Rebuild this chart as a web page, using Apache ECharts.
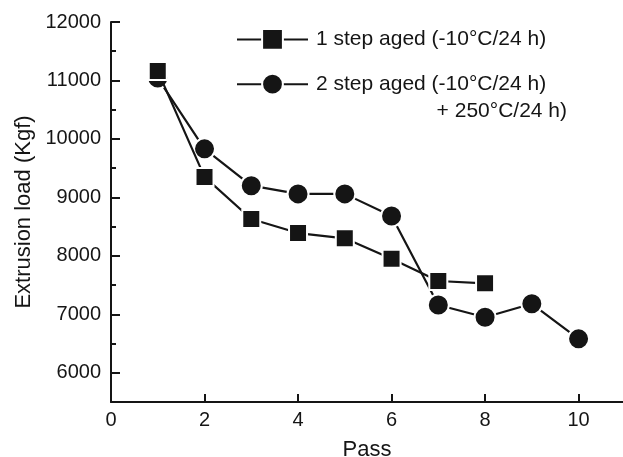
<!DOCTYPE html>
<html>
<head>
<meta charset="utf-8">
<script src="https://cdn.jsdelivr.net/npm/echarts@6/dist/echarts.min.js"></script>
<style>
html,body{margin:0;padding:0;background:#fff;}
#chart{width:623px;height:457px;}
</style>
</head>
<body>
<div id="chart"></div>
<script>
const passes1 = [1, 2, 3, 4, 5, 6, 7, 8];
const load1 = [11160, 9350, 8630, 8390, 8300, 7950, 7570, 7530];
const passes2 = [1, 2, 3, 4, 5, 6, 7, 8, 9, 10];
const load2 = [11040, 9830, 9200, 9060, 9060, 8680, 7160, 6950, 7180, 6580];
const xTicks = [0, 2, 4, 6, 8, 10];
const yTicks = [6000, 7000, 8000, 9000, 10000, 11000, 12000];
const yMinorTicks = [6500, 7500, 8500, 9500, 10500, 11500];
const name1 = '1 step aged (-10°C/24 h)';
const name2 = '2 step aged (-10°C/24 h)';
const name2b = '+ 250°C/24 h)';

const FONT = 'Liberation Sans, Arial, sans-serif';
const INK = '#151515';

const chart = echarts.init(document.getElementById('chart'));
chart.setOption({
  animation: false,
  backgroundColor: '#fff',
  grid: { left: 111, right: 0, top: 22, bottom: 55, containLabel: false, outerBoundsMode: 'none' },
  legend: {
    orient: 'vertical',
    left: 236,
    top: 28,
    padding: 0,
    itemWidth: 71,
    itemHeight: 26,
    itemGap: 22,
    data: [name1, name2],
    textStyle: { fontFamily: FONT, fontSize: 21, color: INK, padding: [0, 0, 0, 3] }
  },
  graphic: [{
    type: 'text',
    right: 56,
    top: 101,
    style: { text: name2b, font: '21px ' + FONT, fill: INK }
  }],
  xAxis: {
    type: 'value',
    min: 0,
    max: 10.95,
    name: 'Pass',
    nameLocation: 'middle',
    nameGap: 37,
    nameTextStyle: { fontFamily: FONT, fontSize: 22, color: INK },
    axisLine: { show: true, lineStyle: { color: INK, width: 2 } },
    axisTick: { show: true, inside: true, length: 8, customValues: xTicks, lineStyle: { color: INK, width: 2 } },
    axisLabel: { customValues: xTicks, margin: 8, fontFamily: FONT, fontSize: 20, color: INK },
    splitLine: { show: false }
  },
  yAxis: [{
    type: 'value',
    min: 5500,
    max: 12000,
    name: 'Extrusion load (Kgf)',
    nameLocation: 'middle',
    nameGap: 76,
    nameTextStyle: { fontFamily: FONT, fontSize: 22, color: INK },
    axisLine: { show: true, lineStyle: { color: INK, width: 2 } },
    axisTick: { show: true, inside: true, length: 9, customValues: yTicks, lineStyle: { color: INK, width: 2 } },
    axisLabel: { customValues: yTicks, margin: 10, fontFamily: FONT, fontSize: 20, color: INK, formatter: v => String(v) },
    splitLine: { show: false }
  }, {
    type: 'value',
    position: 'left',
    min: 5500,
    max: 12000,
    axisLine: { show: false },
    axisTick: { show: true, inside: true, length: 5, customValues: yMinorTicks, lineStyle: { color: INK, width: 2 } },
    axisLabel: { show: false },
    splitLine: { show: false }
  }],
  series: [{
    name: name1,
    type: 'line',
    data: passes1.map((p, i) => [p, load1[i]]),
    symbol: 'rect',
    symbolSize: 18,
    lineStyle: { color: INK, width: 2.2 },
    itemStyle: { color: INK, borderColor: '#fff', borderWidth: 2 },
    z: 3
  }, {
    name: name2,
    type: 'line',
    data: passes2.map((p, i) => [p, load2[i]]),
    symbol: 'circle',
    symbolSize: 21,
    lineStyle: { color: INK, width: 2.2 },
    itemStyle: { color: INK, borderColor: '#fff', borderWidth: 2 },
    z: 2
  }]
});
</script>
</body>
</html>
